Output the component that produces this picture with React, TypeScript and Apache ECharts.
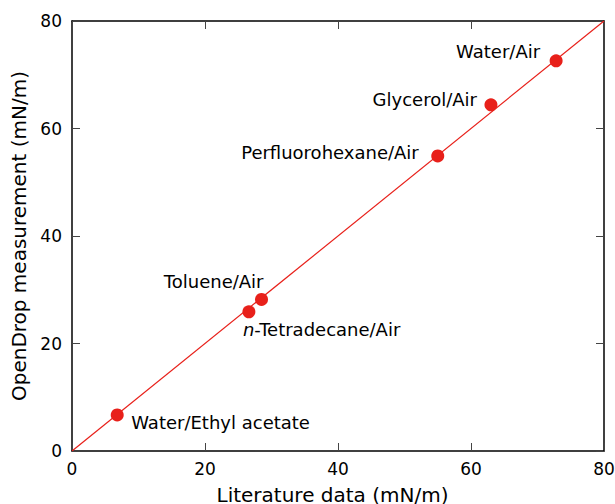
import React, { useEffect, useRef } from "react";
import * as echarts from "echarts";

const names = [
  "Water/Ethyl acetate",
  "n-Tetradecane/Air",
  "Toluene/Air",
  "Perfluorohexane/Air",
  "Glycerol/Air",
  "Water/Air",
];
const literature = [6.8, 26.6, 28.5, 55.0, 63.0, 72.8];
const measured = [6.7, 25.9, 28.2, 54.9, 64.4, 72.6];
const axisTicks = [0, 20, 40, 60, 80];

const labelStyle: Record<string, { position: string; offset: number[] }> = {
  "Water/Ethyl acetate": { position: "right", offset: [2.5, 8] },
  "n-Tetradecane/Air": { position: "right", offset: [-17.5, 18] },
  "Toluene/Air": { position: "left", offset: [13.5, -18] },
  "Perfluorohexane/Air": { position: "left", offset: [-7.5, -3] },
  "Glycerol/Air": { position: "left", offset: [-2.5, -5] },
  "Water/Air": { position: "left", offset: [-4.5, -9] },
};

const RED = "#e8201a";
const FONT = "DejaVu Sans";
const TXT = "#000";

export default function App() {
  const ref = useRef<HTMLDivElement>(null);
  useEffect(() => {
    if (!ref.current) return;
    const chart = echarts.init(ref.current, undefined, { renderer: "svg" });
    const min = axisTicks[0];
    const max = axisTicks[axisTicks.length - 1];
    const interval = axisTicks[1] - axisTicks[0];
    const baseAxis = {
      min,
      max,
      interval,
      axisLine: { show: true, onZero: false, lineStyle: { color: "#000", width: 1.5 } },
      axisTick: { show: true, inside: true, length: 8, lineStyle: { color: "#444", width: 1 } },
      splitLine: { show: false },
    };
    const points = names.map((n, i) => {
      const ls = labelStyle[n];
      const isN = n.startsWith("n-");
      return {
        value: [literature[i], measured[i]],
        name: n,
        label: {
          show: true,
          position: ls.position,
          distance: 5,
          offset: ls.offset,
          formatter: isN ? "{i|n}-" + n.slice(2) : n,
          rich: isN
            ? { i: { fontStyle: "italic", fontFamily: FONT, fontSize: 18, color: TXT } }
            : undefined,
        },
      };
    });
    chart.setOption({
      animation: false,
      backgroundColor: "#fff",
      grid: {
        left: 72,
        top: 21,
        width: 532,
        height: 430,
        containLabel: false,
        outerBoundsMode: "none",
      },
      xAxis: [
        {
          ...baseAxis,
          type: "value",
          position: "bottom",
          name: "Literature data (mN/m)",
          nameLocation: "middle",
          nameGap: 34,
          nameTextStyle: { fontFamily: FONT, fontSize: 20, color: TXT, padding: [0, 11, 0, 0] },
          axisLabel: { fontFamily: FONT, fontSize: 17, color: TXT, margin: 9 },
        },
        {
          ...baseAxis,
          type: "value",
          position: "top",
          axisLabel: { show: false },
        },
      ],
      yAxis: [
        {
          ...baseAxis,
          type: "value",
          position: "left",
          name: "OpenDrop measurement (mN/m)",
          nameLocation: "middle",
          nameGap: 42,
          nameTextStyle: { fontFamily: FONT, fontSize: 20, color: TXT },
          axisLabel: { fontFamily: FONT, fontSize: 17, color: TXT, margin: 10 },
        },
        {
          ...baseAxis,
          type: "value",
          position: "right",
          axisLabel: { show: false },
        },
      ],
      series: [
        {
          type: "line",
          data: [
            [min, min],
            [max, max],
          ],
          symbol: "none",
          lineStyle: { color: RED, width: 1.2 },
          silent: true,
          z: 2,
        },
        {
          type: "scatter",
          data: points,
          symbolSize: 13,
          itemStyle: { color: RED, opacity: 1 },
          label: { fontFamily: FONT, fontSize: 18, color: TXT },
          z: 3,
        },
      ],
    });
    return () => chart.dispose();
  }, []);
  return <div ref={ref} style={{ width: 615, height: 504, position: "absolute", left: 0, top: 0 }} />;
}
